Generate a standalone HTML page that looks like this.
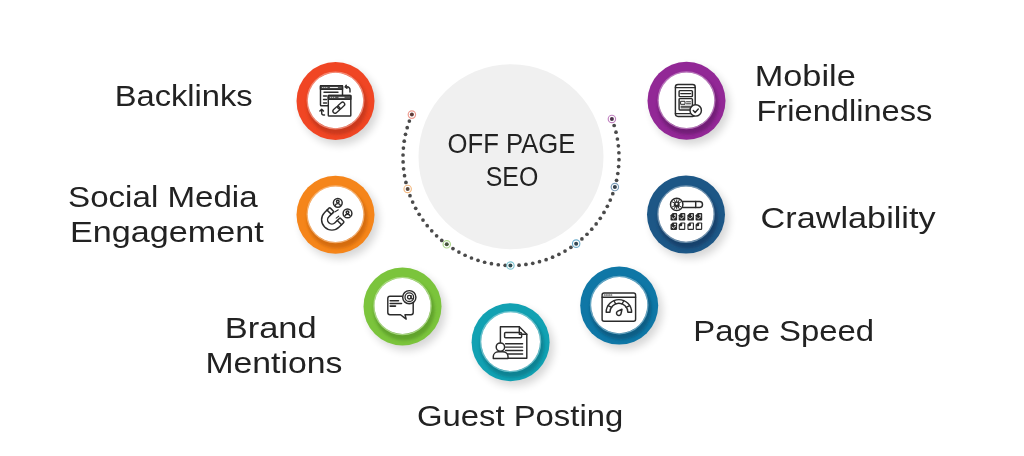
<!DOCTYPE html>
<html><head><meta charset="utf-8"><style>
html,body{margin:0;padding:0;background:#fff;width:1024px;height:456px;overflow:hidden}
svg{display:block;will-change:transform}
text{font-family:"Liberation Sans",sans-serif;fill:#222}
</style></head><body>
<svg width="1024" height="456" viewBox="0 0 1024 456">
<defs>
<filter id="blur4" x="-50%" y="-50%" width="200%" height="200%"><feGaussianBlur stdDeviation="4.5"/></filter>
<filter id="blur2" x="-50%" y="-50%" width="200%" height="200%"><feGaussianBlur stdDeviation="1.8"/></filter>
<filter id="blur1" x="-50%" y="-50%" width="200%" height="200%"><feGaussianBlur stdDeviation="0.6"/></filter>
</defs>
<rect width="1024" height="456" fill="#fff"/>
<circle cx="511" cy="156.7" r="92.5" fill="#f0f0f0"/>
<g fill="#4a4a4a"><circle cx="614.16" cy="125.52" r="1.85"/><circle cx="616.00" cy="132.20" r="1.85"/><circle cx="617.40" cy="138.99" r="1.85"/><circle cx="618.37" cy="145.85" r="1.85"/><circle cx="618.90" cy="152.76" r="1.85"/><circle cx="618.98" cy="159.69" r="1.85"/><circle cx="618.61" cy="166.61" r="1.85"/><circle cx="617.81" cy="173.49" r="1.85"/><circle cx="616.56" cy="180.31" r="1.85"/><circle cx="612.78" cy="193.64" r="1.85"/><circle cx="610.25" cy="200.09" r="1.85"/><circle cx="607.31" cy="206.37" r="1.85"/><circle cx="603.98" cy="212.44" r="1.85"/><circle cx="600.27" cy="218.29" r="1.85"/><circle cx="596.18" cy="223.89" r="1.85"/><circle cx="591.75" cy="229.22" r="1.85"/><circle cx="586.98" cy="234.25" r="1.85"/><circle cx="581.91" cy="238.96" r="1.85"/><circle cx="570.89" cy="247.37" r="1.85"/><circle cx="565.01" cy="251.03" r="1.85"/><circle cx="558.90" cy="254.30" r="1.85"/><circle cx="552.59" cy="257.17" r="1.85"/><circle cx="546.11" cy="259.63" r="1.85"/><circle cx="539.49" cy="261.67" r="1.85"/><circle cx="532.75" cy="263.29" r="1.85"/><circle cx="525.92" cy="264.46" r="1.85"/><circle cx="519.03" cy="265.20" r="1.85"/><circle cx="505.18" cy="265.34" r="1.85"/><circle cx="498.28" cy="264.75" r="1.85"/><circle cx="491.42" cy="263.71" r="1.85"/><circle cx="484.65" cy="262.24" r="1.85"/><circle cx="477.99" cy="260.33" r="1.85"/><circle cx="471.46" cy="258.00" r="1.85"/><circle cx="465.10" cy="255.26" r="1.85"/><circle cx="458.92" cy="252.12" r="1.85"/><circle cx="452.96" cy="248.58" r="1.85"/><circle cx="441.78" cy="240.40" r="1.85"/><circle cx="436.61" cy="235.79" r="1.85"/><circle cx="431.74" cy="230.86" r="1.85"/><circle cx="427.20" cy="225.63" r="1.85"/><circle cx="423.00" cy="220.11" r="1.85"/><circle cx="419.17" cy="214.34" r="1.85"/><circle cx="415.71" cy="208.33" r="1.85"/><circle cx="412.65" cy="202.12" r="1.85"/><circle cx="409.99" cy="195.72" r="1.85"/><circle cx="405.93" cy="182.47" r="1.85"/><circle cx="404.54" cy="175.68" r="1.85"/><circle cx="403.59" cy="168.82" r="1.85"/><circle cx="403.09" cy="161.91" r="1.85"/><circle cx="403.03" cy="154.98" r="1.85"/><circle cx="403.41" cy="148.06" r="1.85"/><circle cx="404.24" cy="141.18" r="1.85"/><circle cx="405.51" cy="134.37" r="1.85"/><circle cx="407.21" cy="127.65" r="1.85"/><circle cx="409.34" cy="121.05" r="1.85"/></g>
<circle cx="611.89" cy="118.97" r="3.7" fill="#fff" stroke="#b060b0" stroke-width="1.15" stroke-opacity="0.8"/><circle cx="611.89" cy="118.97" r="2" fill="#4a3048"/><circle cx="614.87" cy="187.09" r="3.7" fill="#fff" stroke="#5a85a8" stroke-width="1.15" stroke-opacity="0.8"/><circle cx="614.87" cy="187.09" r="2" fill="#34404a"/><circle cx="576.15" cy="243.64" r="3.7" fill="#fff" stroke="#4a9ac0" stroke-width="1.15" stroke-opacity="0.8"/><circle cx="576.15" cy="243.64" r="2" fill="#334650"/><circle cx="510.43" cy="265.50" r="3.7" fill="#fff" stroke="#5ab8c8" stroke-width="1.15" stroke-opacity="0.8"/><circle cx="510.43" cy="265.50" r="2" fill="#2e4c50"/><circle cx="446.76" cy="244.32" r="3.7" fill="#fff" stroke="#98cc70" stroke-width="1.15" stroke-opacity="0.8"/><circle cx="446.76" cy="244.32" r="2" fill="#45543a"/><circle cx="407.66" cy="188.90" r="3.7" fill="#fff" stroke="#f0a860" stroke-width="1.15" stroke-opacity="0.8"/><circle cx="407.66" cy="188.90" r="2" fill="#5a4a40"/><circle cx="411.88" cy="114.61" r="3.7" fill="#fff" stroke="#e88070" stroke-width="1.15" stroke-opacity="0.8"/><circle cx="411.88" cy="114.61" r="2" fill="#5e3a36"/>
<g transform="translate(335.5,101)">
<circle cx="4" cy="5" r="39" fill="#000" opacity="0.16" filter="url(#blur4)"/>
<circle r="39" fill="#f04624"/>
<circle cx="1.6" cy="3.4" r="30.3" fill="#c8381a" opacity="0.9" filter="url(#blur2)"/>
<circle cy="-0.5" r="28.3" fill="none" stroke="#f79987" stroke-width="1.3" opacity="0.8" filter="url(#blur1)"/>
<circle cy="-0.5" r="27.7" fill="#fff"/>
<g transform="translate(0,-0.5)"><g fill="none" stroke="#2b2b2b" stroke-width="1.45" stroke-linecap="round" stroke-linejoin="round">
<rect x="-15" y="-14.8" width="22" height="20" rx="0.8"/>
<rect x="-15" y="-14.8" width="22" height="3.6" fill="#555"/>
<path d="M-13.2 -13h1M-11.2 -13h1M-9.2 -13h1M-5.6 -13h8" stroke="#fff" stroke-width="0.9" stroke-linecap="butt"/>
<path d="M-11.5 -8.2H2.5M-12 -4.5H-9M-12 -1H-9M-12 2.5H-9" stroke-width="1.4"/>
<rect x="-7.2" y="-5" width="22.5" height="20.5" rx="0.8" fill="#fff"/>
<rect x="-7.2" y="-5" width="22.5" height="3.8" fill="#555"/>
<path d="M-5.3 -3.1h1M-3.3 -3.1h1M-1.3 -3.1h1M3 -3.1h6" stroke="#fff" stroke-width="0.9" stroke-linecap="butt"/>
<g transform="translate(3.3,7.2) rotate(-42)" stroke-width="1.35">
<rect x="-7.2" y="-2.1" width="8" height="4.2" rx="2.1"/><rect x="-0.8" y="-2.1" width="8" height="4.2" rx="2.1"/>
</g>
<path d="M14.5 -8.5V-10.5a3 3 0 0 0 -3 -3.2M10.8 -15.2l-1.2 1.6l1.8 1.4" />
<path d="M-11 14.5H-12a1.8 1.8 0 0 1 -1.8 -1.8V8.8M-15.6 10.6l1.8 -1.8l1.8 1.8"/>
</g></g>
</g><g transform="translate(335.5,214.8)">
<circle cx="4" cy="5" r="39" fill="#000" opacity="0.16" filter="url(#blur4)"/>
<circle r="39" fill="#f5851a"/>
<circle cx="1.6" cy="3.4" r="30.400000000000002" fill="#d26a10" opacity="0.9" filter="url(#blur2)"/>
<circle cy="-0.5" r="28.400000000000002" fill="none" stroke="#fabc81" stroke-width="1.3" opacity="0.8" filter="url(#blur1)"/>
<circle cy="-0.5" r="27.8" fill="#fff"/>
<g transform="translate(0,0)"><g fill="none" stroke="#2b2b2b" stroke-width="1.45" stroke-linecap="round" stroke-linejoin="round">
<g transform="translate(-3.6,5.0) rotate(45)">
<path d="M-10.3 -6.2V0A10.3 10.3 0 0 0 10.3 0V-6.2A1 1 0 0 0 9.3 -7.2H5.3A1 1 0 0 0 4.3 -6.2V0A4.3 4.3 0 0 1 -4.3 0V-6.2A1 1 0 0 0 -5.3 -7.2H-9.3A1 1 0 0 0 -10.3 -6.2Z"/>
<path d="M-10.3 -3.4H-4.3M4.3 -3.4H10.3"/>
</g>
<path d="M-5.3 0.3L-2.6 -1.8M-0.8 -2.8L2.8 -5M0.7 3.3L3.2 1.4" stroke-width="1.1"/>
<circle cx="2.3" cy="-12" r="4.4"/><circle cx="2.3" cy="-13.2" r="1.3"/><path d="M-0.2 -9.6a2.6 2.2 0 0 1 5 0"/>
<circle cx="12" cy="-1.4" r="4.4"/><circle cx="12" cy="-2.6" r="1.3"/><path d="M9.5 1a2.6 2.2 0 0 1 5 0"/>
</g></g>
</g><g transform="translate(402.5,306.5)">
<circle cx="4" cy="5" r="39" fill="#000" opacity="0.16" filter="url(#blur4)"/>
<circle r="39" fill="#7bc43c"/>
<circle cx="1.6" cy="3.4" r="30.6" fill="#5fa02a" opacity="0.9" filter="url(#blur2)"/>
<circle cy="-0.5" r="28.6" fill="none" stroke="#b6df94" stroke-width="1.3" opacity="0.8" filter="url(#blur1)"/>
<circle cy="-0.5" r="28" fill="#fff"/>
<g transform="translate(-0.5,-1)"><g fill="none" stroke="#2b2b2b" stroke-width="1.45" stroke-linecap="round" stroke-linejoin="round">
<path d="M-12 -9.2H9A2.2 2.2 0 0 1 11.2 -7V7A2.2 2.2 0 0 1 9 9.2H3L4.2 13.6L-1.5 9.2H-12A2.2 2.2 0 0 1 -14.2 7V-7A2.2 2.2 0 0 1 -12 -9.2Z"/>
<path d="M-11.8 -4.8H-3.5M-11.8 -2H-0.5M-11.8 0.6H-6.5" stroke-width="1.6"/>
<circle cx="7.3" cy="-8.3" r="6.6" fill="#fff"/><circle cx="7.3" cy="-8.3" r="4.3" stroke-width="1.3"/><circle cx="7.3" cy="-8.3" r="1.8" stroke-width="1.3"/><path d="M9.1 -9.8V-7.2a1.2 1.2 0 0 0 2.2 0" stroke-width="1.2"/>
</g></g>
</g><g transform="translate(510.6,342.2)">
<circle cx="4" cy="5" r="39" fill="#000" opacity="0.16" filter="url(#blur4)"/>
<circle r="39" fill="#12a1b2"/>
<circle cx="1.6" cy="3.4" r="32.0" fill="#0d8090" opacity="0.9" filter="url(#blur2)"/>
<circle cy="-0.5" r="30.0" fill="none" stroke="#7dcbd5" stroke-width="1.3" opacity="0.8" filter="url(#blur1)"/>
<circle cy="-0.5" r="29.4" fill="#fff"/>
<g transform="translate(0,-1.4)"><g fill="none" stroke="#2b2b2b" stroke-width="1.45" stroke-linecap="round" stroke-linejoin="round">
<path d="M-10.2 -14H8.7L16.2 -6.5V17.5H-10.2Z"/><path d="M8.7 -14V-6.5H16.2" stroke-width="1.4"/>
<rect x="-6" y="-8.3" width="17" height="5.2" rx="1"/>
<path d="M-5 3H12M-5 6.3H12M-5 9.6H12M-5 13.2H12"/>
<path d="M-17.3 17.6V15.5a5.5 4.6 0 0 1 5 -4.5h4.2a5.5 4.6 0 0 1 5.5 4.5V17.6Z" fill="#fff"/>
<circle cx="-10.2" cy="6.3" r="4.2" fill="#fff"/>
</g></g>
</g><g transform="translate(619.2,305.6)">
<circle cx="4" cy="5" r="39" fill="#000" opacity="0.16" filter="url(#blur4)"/>
<circle r="39" fill="#0f77a6"/>
<circle cx="1.6" cy="3.4" r="30.700000000000003" fill="#0b5c82" opacity="0.9" filter="url(#blur2)"/>
<circle cy="-0.5" r="28.700000000000003" fill="none" stroke="#7bb4ce" stroke-width="1.3" opacity="0.8" filter="url(#blur1)"/>
<circle cy="-0.5" r="28.1" fill="#fff"/>
<g transform="translate(0.2,-0.6)"><g fill="none" stroke="#2b2b2b" stroke-width="1.45" stroke-linecap="round" stroke-linejoin="round">
<rect x="-17.3" y="-12" width="33.5" height="28.3" rx="2"/><path d="M-17.3 -7.8H16.2"/>
<path d="M-15.2 -10h1M-13 -10h1M-10.8 -10h1M-8.6 -10h1" stroke-width="1.1"/>
<path d="M-13.2 7.3A12.7 12.7 0 0 1 12.2 7.3H8.5A9 9 0 0 0 -9.5 7.3Z"/>
<path d="M-11.2 0.6L-7.8 2.4M-5.4 -4.2L-3.6 -0.9M4.4 -4.2L2.6 -0.9M10.2 0.6L6.8 2.4" stroke-width="1.3"/>
<path d="M2.6 4.2L1.65 8.68A2.3 2.3 0 1 1 -1.56 6.11Z" stroke-width="1.5"/>
</g></g>
</g><g transform="translate(686,214.6)">
<circle cx="4" cy="5" r="39" fill="#000" opacity="0.16" filter="url(#blur4)"/>
<circle r="39" fill="#1d5786"/>
<circle cx="1.6" cy="3.4" r="30.200000000000003" fill="#15416a" opacity="0.9" filter="url(#blur2)"/>
<circle cy="-0.5" r="28.200000000000003" fill="none" stroke="#83a3bc" stroke-width="1.3" opacity="0.8" filter="url(#blur1)"/>
<circle cy="-0.5" r="27.6" fill="#fff"/>
<g transform="translate(0.3,-0.6)"><g fill="none" stroke="#2b2b2b" stroke-width="1.45" stroke-linecap="round" stroke-linejoin="round">
<circle cx="-9.6" cy="-9.6" r="6.2"/>
<g transform="translate(-9.6,-9.6)">
<path d="M-4.3 -2.5L4.3 2.5M-4.3 2.5L4.3 -2.5M0 -4.6V4.6M-2.5 -4.2L2.5 4.2M2.5 -4.2L-2.5 4.2" stroke-width="1"/>
<circle r="2.9" fill="#2b2b2b" stroke="none"/><circle cy="-0.6" r="1.1" fill="#fff" stroke="none"/>
</g>
<path d="M-3.6 -12.6H13.2A3 3 0 0 1 13.2 -6.6H-3.6"/><path d="M9.4 -12.6V-6.6"/>
<path d="M-13.60 -0.90H-10.00Q-9.20 -0.90 -9.20 -0.10V5.80Q-9.20 6.60 -10.00 6.60H-15.00Q-15.80 6.60 -15.80 5.80V1.30Z" fill="#2b2b2b" stroke="none"/><path d="M-12.20 0.40H-10.40V1.70H-12.20Z" fill="#fff" stroke="none"/><path d="M-14.20 3.70L-13.00 4.90L-10.60 2.70" stroke="#fff" stroke-width="0.9"/><path d="M-5.40 -0.90H-1.80Q-1.00 -0.90 -1.00 -0.10V5.80Q-1.00 6.60 -1.80 6.60H-6.80Q-7.60 6.60 -7.60 5.80V1.30Z" fill="#2b2b2b" stroke="none"/><path d="M-4.00 0.40H-2.20V1.70H-4.00Z" fill="#fff" stroke="none"/><path d="M-6.00 3.70L-4.80 4.90L-2.40 2.70" stroke="#fff" stroke-width="0.9"/><path d="M3.30 -0.90H6.90Q7.70 -0.90 7.70 -0.10V5.80Q7.70 6.60 6.90 6.60H1.90Q1.10 6.60 1.10 5.80V1.30Z" fill="#2b2b2b" stroke="none"/><path d="M4.70 0.40H6.50V1.70H4.70Z" fill="#fff" stroke="none"/><path d="M2.70 3.70L3.90 4.90L6.30 2.70" stroke="#fff" stroke-width="0.9"/><path d="M11.50 -0.90H15.10Q15.90 -0.90 15.90 -0.10V5.80Q15.90 6.60 15.10 6.60H10.10Q9.30 6.60 9.30 5.80V1.30Z" fill="#2b2b2b" stroke="none"/><path d="M12.90 0.40H14.70V1.70H12.90Z" fill="#fff" stroke="none"/><path d="M10.90 3.70L12.10 4.90L14.50 2.70" stroke="#fff" stroke-width="0.9"/><path d="M-13.60 8.40H-10.00Q-9.20 8.40 -9.20 9.20V15.10Q-9.20 15.90 -10.00 15.90H-15.00Q-15.80 15.90 -15.80 15.10V10.60Z" fill="#2b2b2b" stroke="none"/><path d="M-12.20 9.70H-10.40V11.00H-12.20Z" fill="#fff" stroke="none"/><path d="M-14.20 13.00L-13.00 14.20L-10.60 12.00" stroke="#fff" stroke-width="0.9"/><path d="M-5.40 8.40H-1.80Q-1.00 8.40 -1.00 9.20V15.10Q-1.00 15.90 -1.80 15.90H-6.80Q-7.60 15.90 -7.60 15.10V10.60Z" fill="#2b2b2b" stroke="none"/><path d="M-2.15 9.55V14.75H-6.45V12.30H-5.20Q-4.10 12.30 -4.10 11.20V9.55Z" fill="#fff" stroke="none"/><path d="M3.30 8.40H6.90Q7.70 8.40 7.70 9.20V15.10Q7.70 15.90 6.90 15.90H1.90Q1.10 15.90 1.10 15.10V10.60Z" fill="#2b2b2b" stroke="none"/><path d="M6.55 9.55V14.75H2.25V12.30H3.50Q4.60 12.30 4.60 11.20V9.55Z" fill="#fff" stroke="none"/><path d="M11.50 8.40H15.10Q15.90 8.40 15.90 9.20V15.10Q15.90 15.90 15.10 15.90H10.10Q9.30 15.90 9.30 15.10V10.60Z" fill="#2b2b2b" stroke="none"/><path d="M14.75 9.55V14.75H10.45V12.30H11.70Q12.80 12.30 12.80 11.20V9.55Z" fill="#fff" stroke="none"/>
</g></g>
</g><g transform="translate(686.5,100.8)">
<circle cx="4" cy="5" r="39" fill="#000" opacity="0.16" filter="url(#blur4)"/>
<circle r="39" fill="#922896"/>
<circle cx="1.6" cy="3.4" r="30.400000000000002" fill="#701c74" opacity="0.9" filter="url(#blur2)"/>
<circle cy="-0.5" r="28.400000000000002" fill="none" stroke="#c389c5" stroke-width="1.3" opacity="0.8" filter="url(#blur1)"/>
<circle cy="-0.5" r="27.8" fill="#fff"/>
<g transform="translate(0,-1)"><g fill="none" stroke="#2b2b2b" stroke-width="1.45" stroke-linecap="round" stroke-linejoin="round">
<rect x="-11.1" y="-15.4" width="19.8" height="32" rx="2.6"/>
<path d="M-11.1 -12.2H8.7M-11.1 13.8H8.7"/>
<rect x="-7.4" y="-9.2" width="13.3" height="6" rx="0.8"/>
<path d="M-5.8 -6.2H4.2" stroke-width="1.1"/>
<rect x="-7.4" y="-1.2" width="13.3" height="11.3" rx="0.8"/>
<path d="M-5.5 1.5H-1.5V4.5H-5.5ZM0 2H4M0 4H4M-5.5 6.5H4M-5.5 8H4" stroke-width="1"/>
<circle cx="9.2" cy="10.6" r="5.7" fill="#fff"/><path d="M6.8 10.8l1.8 1.8l3.2 -3.4"/>
</g></g>
</g>
<g><text x="114.7" y="106.4" font-size="30.0" textLength="138.0" lengthAdjust="spacingAndGlyphs">Backlinks</text><text x="68.1" y="206.7" font-size="30.0" textLength="189.5" lengthAdjust="spacingAndGlyphs">Social Media</text><text x="70.1" y="242.4" font-size="30.0" textLength="193.7" lengthAdjust="spacingAndGlyphs">Engagement</text><text x="224.7" y="337.7" font-size="30.0" textLength="91.95" lengthAdjust="spacingAndGlyphs">Brand</text><text x="205.45" y="373.4" font-size="30.0" textLength="137.0" lengthAdjust="spacingAndGlyphs">Mentions</text><text x="416.95" y="426.4" font-size="30.0" textLength="206.3" lengthAdjust="spacingAndGlyphs">Guest Posting</text><text x="693.25" y="340.9" font-size="30.0" textLength="180.75" lengthAdjust="spacingAndGlyphs">Page Speed</text><text x="760.6" y="227.5" font-size="30.0" textLength="175.0" lengthAdjust="spacingAndGlyphs">Crawlability</text><text x="754.7" y="85.7" font-size="30.0" textLength="101.05" lengthAdjust="spacingAndGlyphs">Mobile</text><text x="756.45" y="120.9" font-size="30.0" textLength="175.9" lengthAdjust="spacingAndGlyphs">Friendliness</text><text x="447.6" y="153.0" font-size="27.0" textLength="127.8" lengthAdjust="spacingAndGlyphs">OFF PAGE</text><text x="485.7" y="186.3" font-size="27.0" textLength="52.6" lengthAdjust="spacingAndGlyphs">SEO</text></g>
</svg>
</body></html>
